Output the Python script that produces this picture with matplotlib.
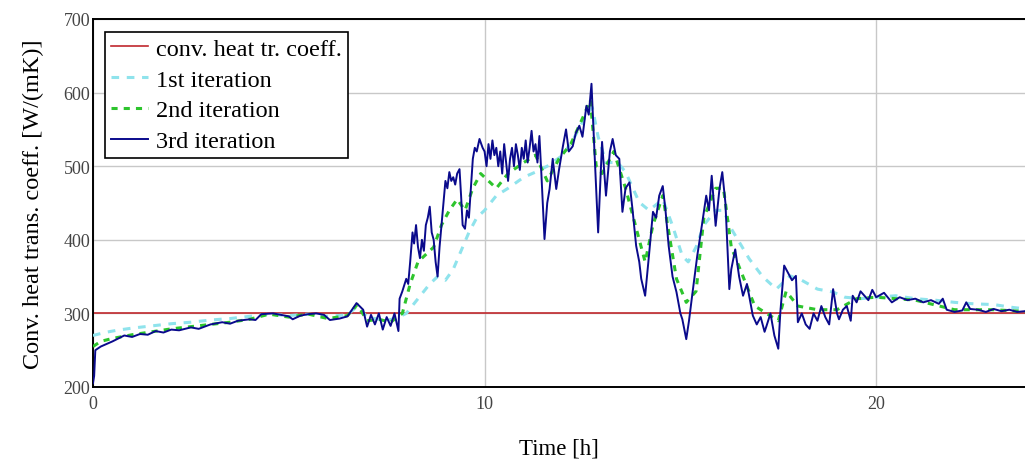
import matplotlib
matplotlib.use("Agg")
import matplotlib.pyplot as plt

# ---- data ----
conv_value = 300

t1 = [0, 0.3, 0.6, 1, 1.5, 2, 2.5, 3, 3.5, 4, 4.5, 5, 5.5, 6, 6.5, 6.75, 7.0, 7.5, 7.8, 8.0,
      8.3, 8.6, 8.8, 9.0, 9.2, 9.4, 9.6, 9.8, 10.0, 10.3, 10.6, 11.0, 11.3, 11.6, 12.0, 12.3,
      12.6, 12.75, 12.9, 13.1, 13.4, 13.6, 13.95, 14.2, 14.55, 14.8, 15.05, 15.2, 15.4, 15.6,
      15.9, 16.1, 16.3, 16.76, 17.1, 17.45, 17.8, 18.1, 18.5, 18.9, 19.2, 19.6, 20, 20.5, 21,
      21.5, 22, 22.5, 23, 23.5, 24]
h1 = [270, 274, 277, 280, 283, 286, 288, 291, 293, 296, 299, 297, 299, 296, 298, 310, 295, 290, 295, 300,
      320, 340, 350, 345, 360, 385, 410, 430, 440, 460, 470, 485, 492, 500, 515, 540,
      570, 580, 540, 505, 505, 492, 451, 440, 455, 419, 378, 370, 390, 420,
      440, 440, 415, 374, 350, 333, 351, 345, 333, 329, 322, 320, 322, 324, 320,
      318, 315, 313, 312, 308, 305]

t2 = [0, 0.2, 0.5, 1, 1.5, 2, 2.5, 3, 3.5, 4, 4.5, 5, 5.5, 6, 6.5, 6.75, 7.0, 7.3, 7.6, 7.9,
      8.1, 8.3, 8.5, 8.7, 8.9, 9.1, 9.3, 9.5, 9.7, 9.9, 10.1, 10.3, 10.6, 11.0, 11.3, 11.6,
      11.9, 12.2, 12.5, 12.7, 12.85, 13.0, 13.3, 13.6, 13.95, 14.1, 14.3, 14.55, 14.9, 15.15,
      15.4, 15.6, 15.9, 16.1, 16.3, 16.6, 16.9, 17.2, 17.5, 17.7, 18.0, 18.5, 19.0, 19.5, 20,
      21, 22, 23, 24]
h2 = [255, 262, 266, 271, 275, 279, 282, 285, 288, 292, 299, 295, 299, 293, 297, 312, 290, 292, 288, 300,
      340, 370, 380, 390, 420, 440, 455, 440, 470, 490, 480, 470, 490, 505, 515, 480,
      510, 530, 565, 590, 500, 490, 520, 470, 400, 370, 420, 460, 347, 315,
      330, 430, 470, 470, 390, 350, 310, 300, 290, 330, 310, 305, 305, 320, 322,
      318, 305, 305, 302]

t3 = [0, 0.03, 0.06, 0.2, 0.5, 0.8, 1.0, 1.2, 1.4, 1.6, 1.8, 2.0, 2.2, 2.5, 2.7, 3.0, 3.3, 3.5,
      3.7, 4.0, 4.15, 4.3, 4.6, 4.8, 5.0, 5.1, 5.3, 5.5, 5.7, 5.9, 6.05, 6.3, 6.5, 6.73, 6.9,
      7.0, 7.1, 7.2, 7.3, 7.4, 7.5, 7.6, 7.7, 7.8, 7.83, 7.9, 8.0, 8.05, 8.1, 8.16, 8.2, 8.25,
      8.3, 8.35, 8.4, 8.45, 8.5, 8.55, 8.6, 8.65, 8.7, 8.75, 8.8, 8.85, 8.9, 8.95, 9.0, 9.05,
      9.1, 9.15, 9.2, 9.25, 9.3, 9.36, 9.4, 9.44, 9.5, 9.55, 9.6, 9.65, 9.7, 9.75, 9.8, 9.87,
      9.95, 10.0, 10.05, 10.1, 10.15, 10.2, 10.25, 10.3, 10.35, 10.4, 10.45, 10.5, 10.55, 10.6,
      10.65, 10.7, 10.75, 10.8, 10.85, 10.9, 10.95, 11.0, 11.05, 11.1, 11.15, 11.2, 11.25,
      11.3, 11.35, 11.4, 11.45, 11.53, 11.6, 11.66, 11.74, 11.83, 11.9, 12.0, 12.08, 12.15,
      12.25, 12.33, 12.42, 12.5, 12.6, 12.66, 12.73, 12.8, 12.9, 13.0, 13.1, 13.2, 13.27,
      13.35, 13.44, 13.52, 13.6, 13.7, 13.78, 13.87, 13.95, 14.0, 14.1, 14.2, 14.3, 14.38,
      14.46, 14.55, 14.62, 14.7, 14.8, 14.9, 15.0, 15.05, 15.15, 15.22, 15.3, 15.43, 15.55,
      15.66, 15.73, 15.8, 15.9, 16.0, 16.07, 16.15, 16.25, 16.3, 16.4, 16.5, 16.6, 16.7,
      16.85, 16.95, 17.05, 17.15, 17.2, 17.3, 17.4, 17.5, 17.55, 17.65, 17.75, 17.85, 17.95,
      18.0, 18.1, 18.2, 18.3, 18.4, 18.5, 18.6, 18.7, 18.8, 18.9, 19.0, 19.05, 19.15, 19.25,
      19.35, 19.4, 19.5, 19.6, 19.7, 19.8, 19.9, 20.0, 20.2, 20.4, 20.6, 20.8, 21.0, 21.2,
      21.4, 21.6, 21.7, 21.8, 22.0, 22.2, 22.3, 22.4, 22.6, 22.8, 23.0, 23.2, 23.4, 23.6,
      23.8, 24.0]
h3 = [205, 215, 250, 255, 262, 270, 268, 272, 271, 276, 274, 278, 277, 281, 279, 285, 288, 286,
      290, 292, 291, 299, 300, 298, 296, 292, 297, 299, 300, 298, 291, 293, 296, 314, 305,
      282, 298, 285, 300, 278, 295, 283, 300, 276, 320, 330, 347, 340, 370, 410, 395, 420,
      390, 375, 400, 385, 420, 430, 445, 410, 400, 370, 350, 390, 420, 450, 480, 470,
      492, 480, 485, 475, 490, 496, 460, 420, 415, 440, 430, 470, 510, 525, 520, 537,
      525, 520, 500, 530, 510, 535, 515, 525, 500, 520, 490, 530, 505, 480,
      510, 525, 500, 530, 515, 495, 525, 510, 535, 505, 525, 548, 520,
      530, 505, 541, 490, 401, 450, 469, 510, 469, 495, 527, 550, 520,
      527, 545, 555, 540, 582, 570, 612, 527, 410, 533, 460, 520, 537,
      515, 510, 438, 470, 478, 440, 392, 370, 347, 324, 380, 438, 430,
      460, 473, 440, 392, 350, 329, 300, 292, 265, 290, 324, 378, 420,
      460, 440, 487, 419, 470, 492, 450, 333, 360, 387, 350, 324, 340,
      297, 285, 295, 275, 283, 300, 270, 252, 300, 365, 355, 345, 351,
      288, 300, 285, 279, 300, 290, 310, 295, 285, 333, 300, 292, 305, 310,
      290, 324, 315, 330, 324, 318, 332, 322, 328, 315, 322, 318, 320, 315,
      318, 313, 320, 305, 302, 304, 315, 306, 305, 302, 306, 303, 305, 302,
      303, 301]

x_ticks = [0, 10, 20]
y_ticks = [200, 300, 400, 500, 600, 700]

# ---- plot ----
plt.rcParams['font.family'] = ['Liberation Serif', 'DejaVu Serif']
fig = plt.figure(figsize=(10.25, 4.64), dpi=100)
ax = fig.add_axes([0.0907, 0.1638, 0.9093, 0.7931])

ax.axhline(conv_value, color='#C0282D', lw=1.2, zorder=2, label='conv. heat tr. coeff.')
ax.plot(t1, h1, color='#8FE3EC', lw=2.2, ls=(0, (2.5, 2.5)), zorder=3, label='1st iteration')
ax.plot(t2, h2, color='#2DC42D', lw=2.2, ls=(0, (2, 2)), zorder=4, label='2nd iteration')
ax.plot(t3, h3, color='#0A0A8C', lw=1.4, zorder=5, label='3rd iteration')

ax.set_xlim(0, 23.8)
ax.set_ylim(200, 700)
ax.set_xticks(x_ticks)
ax.set_yticks(y_ticks)
ax.tick_params(axis='y', length=0, labelsize=13, labelcolor='#444444', pad=2)
ax.tick_params(axis='x', length=0, labelsize=13, labelcolor='#444444', pad=6)
ax.grid(True, color='#c8c8c8', lw=1)
ax.set_axisbelow(True)
for s in ['left', 'bottom', 'top']:
    ax.spines[s].set_linewidth(1.4)
    ax.spines[s].set_color('black')
ax.spines['right'].set_visible(False)

ax.set_xlabel('Time [h]', fontsize=16.5, labelpad=18)
ax.set_ylabel('Conv. heat trans. coeff. [W/(mK)]', fontsize=17.5, labelpad=14)

leg = ax.legend(loc='upper left', bbox_to_anchor=(0.013, 0.965), fontsize=17.5,
                frameon=True, fancybox=False, edgecolor='black', framealpha=1,
                handlelength=1.5, handletextpad=0.35, borderpad=0.25, labelspacing=0.36,
                borderaxespad=0)
leg.get_frame().set_linewidth(1.2)

fig.savefig('out.png', dpi=100)
